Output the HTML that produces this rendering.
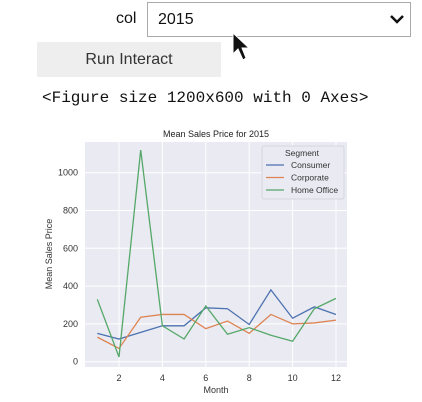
<!DOCTYPE html>
<html><head><meta charset="utf-8">
<style>
body{margin:0;width:422px;height:402px;background:#fff;overflow:hidden;position:relative;font-family:"Liberation Sans",sans-serif}
.abs{position:absolute}
</style></head><body>
<div class="abs" style="left:116px;top:10px;font-size:16px;color:#111">col</div>
<div class="abs" style="left:147px;top:2px;width:262px;height:33px;border:1px solid #aaa;box-sizing:content-box">
  <span style="position:absolute;left:10px;top:8px;font-size:16px;color:#111">2015</span>
  <svg style="position:absolute;right:6px;top:11px" width="14" height="10"><polyline points="1,2 7,8 13,2" fill="none" stroke="#111" stroke-width="2.5"/></svg>
</div>
<div class="abs" style="left:37px;top:42px;width:184px;height:35px;background:#eee;font-size:16px;color:#333;text-align:center;line-height:35px">Run Interact</div>
<svg class="abs" style="left:232px;top:32px" width="20" height="34"><polygon points="1,1 1,22 6,17 11,28 14,26 10,16 17,16" fill="#111" stroke="#fff" stroke-width="1"/></svg>
<div class="abs" style="left:42px;top:89px;font-family:'Liberation Mono',monospace;font-size:16px;color:#111;white-space:pre">&lt;Figure size 1200x600 with 0 Axes&gt;</div>
<svg class="abs" style="left:0;top:0" width="422" height="402" id="chart"></svg>
<script>
const months=[1,2,3,4,5,6,7,8,9,10,11,12];
const consumer=[150,120,155,190,190,285,280,197,380,230,290,250];
const corporate=[130,70,235,250,250,175,215,150,250,200,205,220];
const homeOffice=[330,25,1120,190,120,295,145,180,140,108,280,335];
const xTicks=[2,4,6,8,10,12];
const yTicks=[0,200,400,600,800,1000];
const L=85,R=347,T=142,B=367;
const x=m=>119+(m-2)*21.7;
const y=v=>361.7-v*0.1890;
const svg=document.getElementById('chart');
const NS='http://www.w3.org/2000/svg';
function mk(t,a){const e=document.createElementNS(NS,t);for(const k in a)e.setAttribute(k,a[k]);svg.appendChild(e);return e;}
let bg=mk('rect',{x:L,y:T,width:R-L,height:B-T,fill:'#eaeaf2'});


xTicks.forEach(t=>{
 let g=mk('line',{x1:x(t),x2:x(t),y1:T,y2:B,stroke:'#fff','stroke-width':1});
 
 
 let l=mk('text',{x:x(t),y:381,'font-size':9,'text-anchor':'middle',fill:'#333'});l.textContent=t;
 
 
});
yTicks.forEach(t=>{
 let g=mk('line',{x1:L,x2:R,y1:y(t),y2:y(t),stroke:'#fff','stroke-width':1});
 
 
 let l=mk('text',{x:78,y:y(t)+3,'font-size':9,'text-anchor':'end',fill:'#333'});l.textContent=t;
 
 
});
const series=[['consumer',consumer,'#4c72b0'],['corporate',corporate,'#dd8452'],['home-office',homeOffice,'#55a868']];
series.forEach(([n,d,c])=>{
 let p=mk('polyline',{points:d.map((v,i)=>x(months[i])+','+y(v)).join(' '),fill:'none',stroke:c,'stroke-width':1.3});
 
 
});
let tt=mk('text',{x:216,y:137,'font-size':9,'text-anchor':'middle',fill:'#222'});tt.textContent='Mean Sales Price for 2015';


let xt=mk('text',{x:216,y:393,'font-size':9,'text-anchor':'middle',fill:'#333'});xt.textContent='Month';


let yt=mk('text',{x:0,y:0,'font-size':9,'text-anchor':'middle',fill:'#333',transform:'translate(52,254) rotate(-90)'});yt.textContent='Mean Sales Price';


let lg=mk('rect',{x:262,y:146,width:82,height:53,fill:'#eaeaf2',stroke:'#d0d0d8','stroke-width':0.8,rx:2});


let lt=mk('text',{x:302,y:156,'font-size':8.5,'text-anchor':'middle',fill:'#333'});lt.textContent='Segment';


['Consumer','Corporate','Home Office'].forEach((s,i)=>{
 const yy=165+i*12.5;
 let ln=mk('line',{x1:266,x2:284,y1:yy,y2:yy,stroke:series[i][2],'stroke-width':1.3});
 
 
 let tx=mk('text',{x:291,y:yy+3,'font-size':8.5,fill:'#333'});tx.textContent=s;
 
 
});
</script>
</body></html>
